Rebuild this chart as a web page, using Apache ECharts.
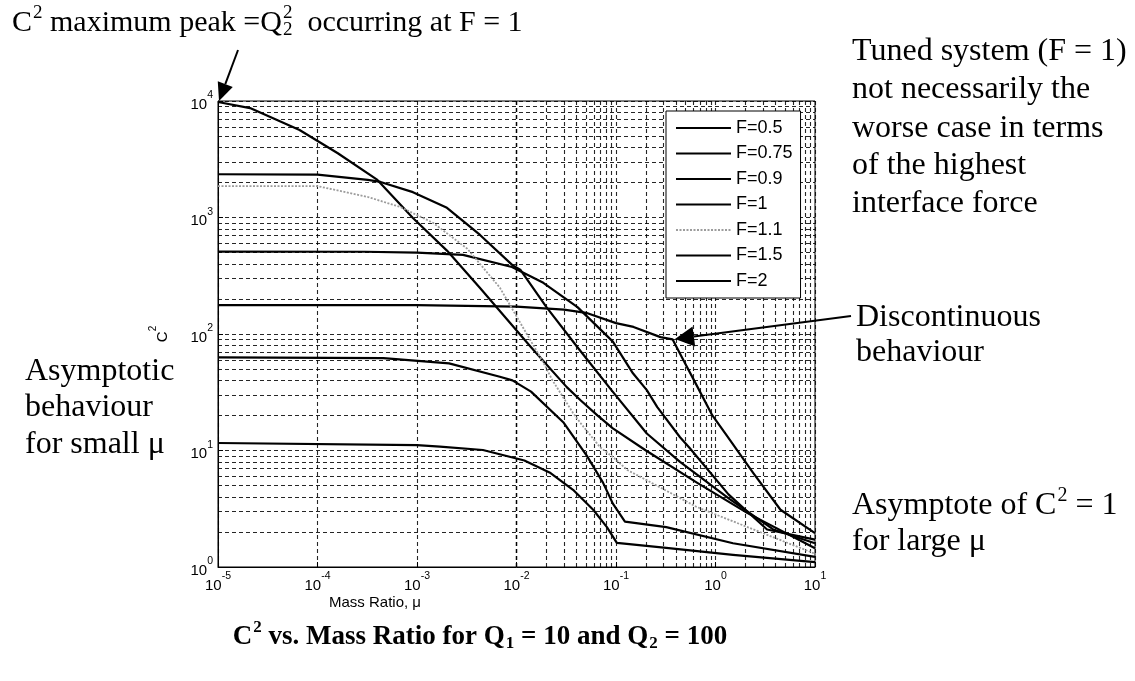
<!DOCTYPE html>
<html><head><meta charset="utf-8">
<script src="https://cdn.jsdelivr.net/npm/echarts@6/dist/echarts.min.js"></script>
<style>html,body{margin:0;padding:0;background:#fff}#c{width:1135px;height:681px}</style>
</head><body><div id="c"></div>
<script>
// ---------- data ----------
const seriesNames = ['F=0.5','F=0.75','F=0.9','F=1','F=1.1','F=1.5','F=2'];

const muF05 = [1e-5, 1e-3, 1e-2, 3e-2, 5e-2, 0.1, 0.15, 0.28, 0.37, 0.5, 0.6, 0.93, 1.3, 2.4, 4.5, 10];
const c2F05 = [177, 177, 172, 162, 152, 124, 115, 94, 90, 55, 41, 20, 13.4, 6.4, 3.1, 1.95];

const muF075 = [1e-5, 3e-4, 1e-3, 2.9e-3, 9e-3, 1.86e-2, 4.1e-2, 0.093, 0.148, 0.204, 0.26, 0.44, 0.55, 1.35, 3.3, 10];
const c2F075 = [510, 508, 500, 478, 376, 275, 170, 86, 46, 33, 23.6, 13, 10.5, 4.2, 2.1, 1.72];

const muF09 = [1e-5, 1e-4, 3.2e-4, 4.3e-4, 9.1e-4, 2e-3, 4.3e-3, 9.1e-3, 1.1e-2, 2e-2, 4.1e-2, 9e-2, 0.204, 0.44, 1.4, 3.8, 10];
const c2F09 = [2350, 2330, 2100, 2020, 1650, 1210, 708, 390, 354, 170, 77, 33, 14, 8, 3.8, 2.1, 1.6];

const muF1 = [1e-5, 2.1e-5, 6.6e-5, 1.6e-4, 4e-4, 9.1e-4, 2e-3, 4.3e-3, 1.4e-2, 3.2e-2, 4.4e-2, 6.5e-2, 9.3e-2, 0.2, 0.65, 2.1, 10];
const c2F1 = [9800, 8700, 5640, 3560, 2100, 990, 520, 248, 77, 35, 27, 20, 15.5, 10, 5.3, 2.9, 1.45];

const muF11 = [1e-5, 1e-4, 3.2e-4, 6.8e-4, 1.45e-3, 3.2e-3, 6.8e-3, 1.86e-2, 2.3e-2, 3.7e-2, 4.4e-2, 6.9e-2, 9.3e-2, 0.13, 0.2, 0.65, 2.1, 10];
const c2F11 = [1860, 1860, 1500, 1230, 900, 540, 250, 57, 40, 21, 17.2, 10.7, 8.8, 6.8, 5.6, 3.27, 2.2, 1.3];

const muF15 = [1e-5, 4.6e-4, 2.1e-3, 6.8e-3, 9.1e-3, 1.4e-2, 2.95e-2, 5.1e-2, 7.4e-2, 9.3e-2, 0.123, 0.32, 1.5, 10];
const c2F15 = [63, 62, 56, 43, 40, 32, 17.5, 9, 5.3, 3.5, 2.45, 2.2, 1.6, 1.22];

const muF2 = [1e-5, 1e-3, 1.7e-3, 4.6e-3, 1.2e-2, 2.2e-2, 3.7e-2, 5.9e-2, 8.1e-2, 0.102, 0.32, 1.5, 10];
const c2F2 = [11.6, 11.1, 10.8, 10.1, 8.2, 6.4, 4.6, 3.1, 2.2, 1.61, 1.46, 1.27, 1.1];

const xMin = 1e-5, xMax = 10, yMin = 1, yMax = 1e4;

// ---------- helpers ----------
const pairs = (xs, ys) => xs.map((x, i) => [x, ys[i]]);
const seriesData = [
  pairs(muF05, c2F05), pairs(muF075, c2F075), pairs(muF09, c2F09), pairs(muF1, c2F1),
  pairs(muF11, c2F11), pairs(muF15, c2F15), pairs(muF2, c2F2)
];

const cv = document.createElement('canvas').getContext('2d');
function tw(text, font) { cv.font = font; return cv.measureText(text).width; }

const SERIF = '"Liberation Serif","Times New Roman",serif';
const SANS = '"Liberation Sans",Arial,sans-serif';

function textLine(x, y, runs, size, bold, align) {
  const w8 = bold ? 'bold ' : '';
  const big = w8 + size + 'px ' + SERIF;
  const smallSize = Math.round(size * 0.62);
  const small = w8 + smallSize + 'px ' + SERIF;
  let total = 0;
  runs.forEach(r => {
    if (r.t != null) total += tw(r.t, big);
    else if (r.sup != null) total += tw(r.sup, small) + 1;
    else if (r.sub != null) total += tw(r.sub, small) + 1;
    else if (r.stack) total += Math.max(tw(r.stack[0], small), tw(r.stack[1], small)) + 1;
  });
  let cx = align === 'center' ? x - total / 2 : x;
  const els = [];
  const mk = (t, px, py, font) => ({ type: 'text', x: px, y: py, silent: true, z: 20,
    style: { text: t, font: font, fill: '#000', textAlign: 'left', align: 'left', textVerticalAlign: 'middle', verticalAlign: 'middle' } });
  runs.forEach(r => {
    if (r.t != null) { els.push(mk(r.t, cx, y, big)); cx += tw(r.t, big); }
    else if (r.sup != null) { els.push(mk(r.sup, cx + 1, y - size * 0.33, small)); cx += tw(r.sup, small) + 1; }
    else if (r.sub != null) { els.push(mk(r.sub, cx + 1, y + size * 0.25, small)); cx += tw(r.sub, small) + 1; }
    else if (r.stack) {
      els.push(mk(r.stack[0], cx + 1, y - size * 0.33, small));
      els.push(mk(r.stack[1], cx + 1, y + size * 0.25, small));
      cx += Math.max(tw(r.stack[0], small), tw(r.stack[1], small)) + 1;
    }
  });
  return els;
}

function arrow(x1, y1, x2, y2, headLen, headHalf) {
  const dx = x2 - x1, dy = y2 - y1, L = Math.sqrt(dx * dx + dy * dy);
  const ux = dx / L, uy = dy / L;
  const bx = x2 - ux * headLen, by = y2 - uy * headLen;
  return [
    { type: 'line', silent: true, z: 20, shape: { x1: x1, y1: y1, x2: bx, y2: by }, style: { stroke: '#000', lineWidth: 2 } },
    { type: 'polygon', silent: true, z: 20, shape: { points: [[x2, y2], [bx - uy * headHalf, by + ux * headHalf], [bx + uy * headHalf, by - ux * headHalf]] }, style: { fill: '#000' } }
  ];
}

// ---------- grid (minor lines at 2..9 of each decade) ----------
const xMinor = [], yMinor = [];
for (let e = -5; e < 1; e++) for (let k = 2; k <= 9; k++) xMinor.push(k * Math.pow(10, e));
for (let e = 0; e < 4; e++) for (let k = 2; k <= 9; k++) yMinor.push(k * Math.pow(10, e));
const gridStyle = { color: '#000', type: [4, 3], width: 1.1, opacity: 0.85 };

const expLabel = v => '{b|10}{s|' + Math.round(Math.log10(v)) + '}';
const labelRich = {
  b: { fontFamily: SANS, fontSize: 15, color: '#000', lineHeight: 22, verticalAlign: 'bottom' },
  s: { fontFamily: SANS, fontSize: 10.5, color: '#000', lineHeight: 22, verticalAlign: 'top' }
};

const series = seriesNames.map((name, i) => ({
  name: name, type: 'line', data: seriesData[i], symbol: 'none', showSymbol: false, smooth: false,
  z: 5,
  lineStyle: name === 'F=1.1' ? { color: '#9c9c9c', width: 1.8, type: [2, 1.5] } : { color: '#000', width: 2.2, join: 'round' },
  itemStyle: { color: name === 'F=1.1' ? '#9c9c9c' : '#000' }
}));
series.push({
  name: 'grid', type: 'line', data: [[xMin, yMin]], symbol: 'none', lineStyle: { opacity: 0 }, silent: true, z: 1,
  markLine: {
    silent: true, symbol: ['none', 'none'], label: { show: false }, animation: false,
    lineStyle: gridStyle, emphasis: { disabled: true },
    data: xMinor.map(v => ({ xAxis: v })).concat(yMinor.map(v => ({ yAxis: v })))
  }
});

// ---------- annotations ----------
const A = 32; // annotation font size
const gfx = [].concat(
  textLine(12, 23, [{ t: 'C' }, { sup: '2' }, { t: ' maximum peak =Q' }, { stack: ['2', '2'] }, { t: '  occurring at F = 1' }], 30, false, 'left'),
  arrow(238, 50, 219, 101, 18, 8),
  textLine(852, 52, [{ t: 'Tuned system (F = 1)' }], A, false, 'left'),
  textLine(852, 90, [{ t: 'not necessarily the' }], A, false, 'left'),
  textLine(852, 129, [{ t: 'worse case in terms' }], A, false, 'left'),
  textLine(852, 166, [{ t: 'of the highest' }], A, false, 'left'),
  textLine(852, 204, [{ t: 'interface force' }], A, false, 'left'),
  arrow(851, 316, 675, 339, 19, 10),
  textLine(856, 318, [{ t: 'Discontinuous' }], A, false, 'left'),
  textLine(856, 353, [{ t: 'behaviour' }], A, false, 'left'),
  textLine(852, 506, [{ t: 'Asymptote of C' }, { sup: '2' }, { t: ' = 1' }], A, false, 'left'),
  textLine(852, 542, [{ t: 'for large \u03bc' }], A, false, 'left'),
  textLine(25, 372, [{ t: 'Asymptotic' }], A, false, 'left'),
  textLine(25, 408, [{ t: 'behaviour' }], A, false, 'left'),
  textLine(25, 445, [{ t: 'for small \u03bc' }], A, false, 'left'),
  textLine(480, 637, [{ t: 'C' }, { sup: '2' }, { t: ' vs. Mass Ratio for Q' }, { sub: '1' }, { t: ' = 10 and Q' }, { sub: '2' }, { t: ' = 100' }], 27, true, 'center'),
  [{ type: 'text', x: 375, y: 603, silent: true,
     style: { text: 'Mass Ratio, \u03bc', font: '15px ' + SANS, fill: '#000', textAlign: 'center', align: 'center', textVerticalAlign: 'middle', verticalAlign: 'middle' } }]
);

const chart = echarts.init(document.getElementById('c'), null, { renderer: 'canvas' });
chart.setOption({
  animation: false,
  backgroundColor: '#fff',
  grid: { left: 218, right: 320, top: 101, bottom: 114, show: true, borderColor: '#000', borderWidth: 1, backgroundColor: 'transparent' },
  xAxis: {
    type: 'log', logBase: 10, min: xMin, max: xMax, splitNumber: 6,
    axisLine: { show: true, onZero: false, lineStyle: { color: '#000', width: 1 } },
    axisTick: { show: true, inside: true, length: 5, lineStyle: { color: '#000' } },
    axisLabel: { formatter: expLabel, rich: labelRich, margin: 4 },
    splitLine: { show: true, lineStyle: gridStyle }
  },
  yAxis: {
    type: 'log', logBase: 10, min: yMin, max: yMax, splitNumber: 4,
    name: '{c|C}{cs|2}', nameLocation: 'middle', nameRotate: 90, nameGap: 48,
    nameTextStyle: { rich: {
      c: { fontFamily: SANS, fontSize: 15, color: '#000', lineHeight: 22, verticalAlign: 'bottom' },
      cs: { fontFamily: SANS, fontSize: 10, color: '#000', lineHeight: 22, verticalAlign: 'top' } } },
    axisLine: { show: true, onZero: false, lineStyle: { color: '#000', width: 1 } },
    axisTick: { show: true, inside: true, length: 5, lineStyle: { color: '#000' } },
    axisLabel: { formatter: expLabel, rich: labelRich, margin: 5 },
    splitLine: { show: true, lineStyle: gridStyle }
  },
  legend: {
    data: seriesNames, orient: 'vertical', left: 666, top: 111,
    itemWidth: 55, itemHeight: 14, itemGap: 7.5, padding: [8, 8, 8, 9],
    itemStyle: { opacity: 0, borderWidth: 0 },
    backgroundColor: '#fff', borderColor: '#000', borderWidth: 1, borderRadius: 0,
    textStyle: { fontFamily: SANS, fontSize: 18, color: '#000' }, z: 10
  },
  series: series,
  graphic: { elements: gfx }
});
</script>
</body></html>
